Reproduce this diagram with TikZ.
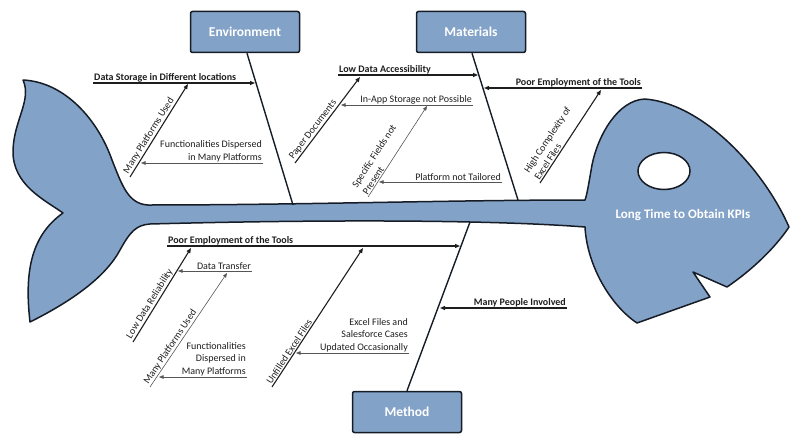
\documentclass[tikz,border=0pt]{standalone}
\usepackage{fontspec}
\setmainfont{Carlito}
\usetikzlibrary{arrows.meta,shapes.geometric}
\definecolor{fishblue}{RGB}{131,162,199}
\definecolor{outl}{RGB}{22,28,38}
\definecolor{txt}{RGB}{30,30,30}
\definecolor{thinc}{RGB}{85,85,85}
\begin{document}
\begin{tikzpicture}[x=1pt,y=-1pt,
  bone/.style={draw=outl, line width=1.4pt},
  catbox/.style={draw=outl, line width=1.5pt, fill=fishblue, rounded corners=2pt,
    minimum width=109pt, minimum height=41pt, text=white,
    font=\fontsize{13.5}{15}\selectfont\bfseries},
  majarrow/.style={draw=txt, line width=1.1pt, -{Triangle[length=5pt,width=4pt]}},
  minarrow/.style={draw=thinc, line width=0.6pt, -{Triangle[length=4.5pt,width=3.5pt]}},
  blbl/.style={font=\fontsize{10}{12.5}\selectfont\bfseries, text=txt, inner sep=1pt},
  lbl/.style={font=\fontsize{10}{12.5}\selectfont, text=txt, inner sep=1pt},
  slbl/.style={lbl, sloped, pos=0, anchor=south west, align=left},
]
\useasboundingbox (0,0) rectangle (790,436);

% fish body
\path[draw=outl, line width=1.5pt, fill=fishblue, line join=round]
 (585,200) .. controls (450,200) and (300,205) .. (148,205)
 .. controls (128,204) and (122,185) .. (112,160)
 .. controls (98,120) and (65,82) .. (23,80)
 .. controls (32,100) and (14,120) .. (13,150)
 .. controls (12,185) and (45,200) .. (63,213)
 .. controls (32,235) and (24,270) .. (30,322)
 .. controls (70,302) and (105,278) .. (120,250)
 .. controls (130,232) and (136,225) .. (150,224)
 .. controls (300,220) and (480,219) .. (585,227)
 .. controls (587,265) and (610,305) .. (637,323)
 -- (710,297) -- (693,272) -- (727,287)
 .. controls (752,270) and (775,248) .. (789,227)
 .. controls (765,172) and (705,104) .. (645,99)
 .. controls (618,100) and (598,135) .. (592,165)
 .. controls (589,182) and (587,195) .. (585,200) -- cycle;
\node[draw=outl, line width=1.5pt, fill=white, ellipse, minimum width=52pt, minimum height=37pt, inner sep=0pt] (eye) at (664,171) {};
\node[text=white, font=\fontsize{13}{15}\selectfont\bfseries] (effect) at (683,215) {Long Time to Obtain KPIs};

% category boxes
\node[catbox] (env) at (245,32) {Environment};
\node[catbox] (mat) at (471,32) {Materials};
\node[catbox] (met) at (407,412) {Method};

% main bones
\coordinate (envS) at (293,205);
\coordinate (matS) at (518,200);
\coordinate (metS) at (470,222);
\draw[bone] ([xshift=2pt]env.south) -- (envS);
\draw[bone] ([xshift=1pt]mat.south) -- (matS);
\draw[bone] (met.north) -- (metS);

% ---------- Environment ----------
\coordinate (ds0) at (93,83);   \coordinate (ds1) at (255,83);
\node[blbl, anchor=south west] (dsT) at (ds0) {Data Storage in Different locations};
\draw[majarrow] (ds0) -- (ds1);

\coordinate (mp0) at (130,177); \coordinate (mp1) at (188,84);
\draw[majarrow] (mp0) -- node[slbl] (mpT) {Many Platforms Used} (mp1);

\coordinate (fd0) at (263,163); \coordinate (fd1) at (141,163);
\node[lbl, anchor=south east, align=right] (fdT) at (fd0) {Functionalities Dispersed\\in Many Platforms};
\draw[minarrow] (fd0) -- (fd1);

% ---------- Materials ----------
\coordinate (la0) at (338,75);  \coordinate (la1) at (478,75);
\node[blbl, anchor=south west] (laT) at (la0) {Low Data Accessibility};
\draw[majarrow] (la0) -- (la1);

\coordinate (pd0) at (295,163); \coordinate (pd1) at (360,77);
\draw[majarrow] (pd0) -- node[slbl] (pdT) {Paper Documents} (pd1);

\coordinate (ia0) at (473,105); \coordinate (ia1) at (341,105);
\node[lbl, anchor=south east] (iaT) at (ia0) {In-App Storage not Possible};
\draw[minarrow] (ia0) -- (ia1);

\coordinate (sf0) at (368,197); \coordinate (sf1) at (427,106);
\draw[minarrow] (sf0) -- node[slbl] (sfT) {Specific Fields not\\Present} (sf1);

\coordinate (pt0) at (502,182); \coordinate (pt1) at (379,182);
\node[lbl, anchor=south east] (ptT) at (pt0) {Platform not Tailored};
\draw[minarrow] (pt0) -- (pt1);

\coordinate (pe0) at (642,88);  \coordinate (pe1) at (484,88);
\node[blbl, anchor=south east] (peT) at (pe0) {Poor Employment of the Tools};
\draw[majarrow] (pe0) -- (pe1);

\coordinate (hc0) at (540,183); \coordinate (hc1) at (601,90);
\draw[majarrow] (hc0) -- node[slbl] (hcT) {High Complexity of\\Excel Files} (hc1);

% ---------- Method ----------
\coordinate (pb0) at (167,246); \coordinate (pb1) at (460,246);
\node[blbl, anchor=south west] (pbT) at (pb0) {Poor Employment of the Tools};
\draw[majarrow] (pb0) -- (pb1);

\coordinate (lr0) at (133,342); \coordinate (lr1) at (191,248);
\draw[majarrow] (lr0) -- node[slbl] (lrT) {Low Data Reliability} (lr1);

\coordinate (dt0) at (252,271); \coordinate (dt1) at (178,271);
\node[lbl, anchor=south east] (dtT) at (dt0) {Data Transfer};
\draw[minarrow] (dt0) -- (dt1);

\coordinate (mb0) at (150,387); \coordinate (mb1) at (227,273);
\draw[minarrow] (mb0) -- node[slbl] (mbT) {Many Platforms Used} (mb1);

\coordinate (fb0) at (247,377); \coordinate (fb1) at (159,377);
\node[lbl, anchor=south east, align=right] (fbT) at (fb0) {Functionalities\\Dispersed in\\Many Platforms};
\draw[minarrow] (fb0) -- (fb1);

\coordinate (ue0) at (272,387); \coordinate (ue1) at (363,248);
\draw[majarrow] (ue0) -- node[slbl] (ueT) {Unfilled Excel Files} (ue1);

\coordinate (ef0) at (409,353); \coordinate (ef1) at (296,353);
\node[lbl, anchor=south east, align=right] (efT) at (ef0) {Excel Files and\\Salesforce Cases\\Updated Occasionally};
\draw[minarrow] (ef0) -- (ef1);

\coordinate (pi0) at (567,308); \coordinate (pi1) at (440,308);
\node[blbl, anchor=south east] (piT) at (pi0) {Many People Involved};
\draw[majarrow] (pi0) -- (pi1);
\end{tikzpicture}
\end{document}
